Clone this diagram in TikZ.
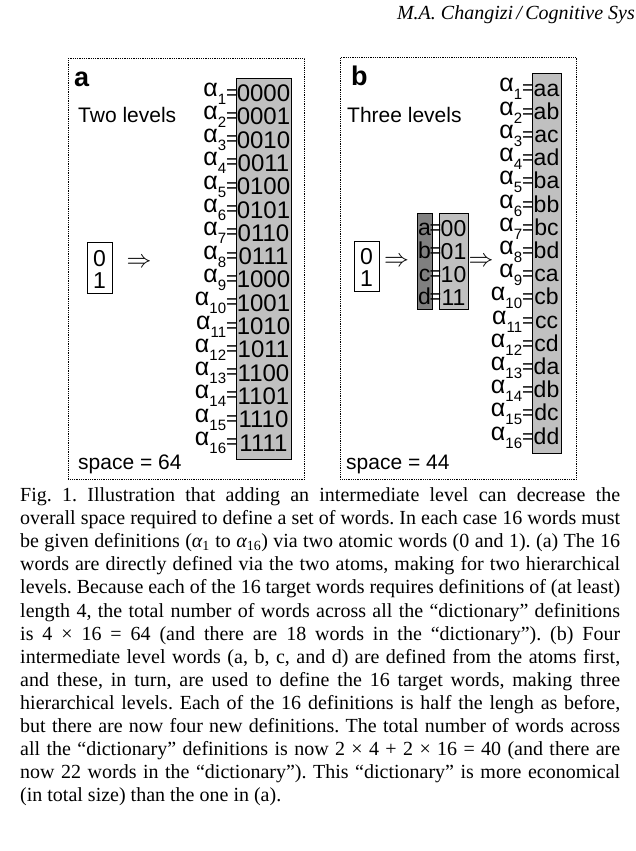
\documentclass[tikz,border=0pt]{standalone}
\usepackage{fontspec}
\setmainfont{Liberation Serif}
\newfontfamily\arial{Liberation Sans}
\usetikzlibrary{positioning,calc}

\definecolor{cellgray}{RGB}{192,192,192}
\definecolor{atomgray}{RGB}{128,128,128}

\newcommand{\wordlabel}[1]{{\fontsize{25}{25}\selectfont α}\raisebox{-8pt}{\fontsize{15}{15}\selectfont #1}\raisebox{-3pt}{\fontsize{20}{20}\selectfont =}}

\begin{document}
\begin{tikzpicture}[
    x=1pt, y=-1pt,
    panel/.style={rectangle, draw, line width=0.9pt, dash pattern=on 0.9pt off 0.9pt, inner sep=0pt, anchor=north west},
    defbox/.style={rectangle, draw, line width=1.3pt, fill=cellgray, inner sep=0pt, anchor=north west},
    atombox/.style={defbox, fill=white},
    midbox/.style={defbox, fill=atomgray},
    cell/.style={font=\arial\fontsize{24}{24}\selectfont, anchor=base, inner sep=0pt},
    smallcell/.style={cell, font=\arial\fontsize{23}{23}\selectfont},
    eqsign/.style={font=\arial\fontsize{20}{20}\selectfont, anchor=base, inner sep=0pt},
    wordlbl/.style={font=\arial, anchor=base east, inner sep=0pt},
    tag/.style={font=\arial\bfseries\fontsize{27}{27}\selectfont, anchor=base west, inner sep=0pt},
    head/.style={font=\arial\fontsize{21}{21}\selectfont, anchor=base west, inner sep=0pt},
    imply/.style={font=\fontsize{25}{25}\selectfont, inner sep=0pt},
    caption/.style={anchor=north west, inner sep=0pt, text width=600pt, align=justify, font=\fontsize{20}{23.1}\selectfont\frenchspacing}
]
\useasboundingbox (0,0) rectangle (635,851);

\node [anchor=base east, inner sep=0pt, font=\itshape\fontsize{20}{20}\selectfont] (hd) at (635,20) {M.A. Changizi\,/\,Cognitive Sys};

% panel a
\node [panel, minimum width=236pt, minimum height=421pt] (pa) at (68,58) {};
\node [tag] (ta) at (74,86) {a};
\node [head] (lva) at (78,122) {Two levels};
\node [head] (spa) at (78,469) {space = 64};
\node [atombox, minimum width=25pt, minimum height=51pt] (ata) at (87,242) {};
\node [smallcell] (za0) at (99.5,266) {0};
\node [smallcell] (za1) at (99.5,288) {1};
\node [imply] (ia) at (139,263) {$\Rightarrow$};
\node [defbox, minimum width=55pt, minimum height=381pt] (boxa) at (236,78) {};
\foreach \w [count=\i] in {0000,0001,0010,0011,0100,0101,0110,0111,1000,1001,1010,1011,1100,1101,1110,1111} {
    \node [cell] (wa\i) at (263.5,{101.5+23.3*(\i-1)}) {\w};
    \node [wordlbl] (la\i) at (238,{96+23.3*(\i-1)}) {\wordlabel{\i}};
}

% panel b
\node [panel, minimum width=236pt, minimum height=422pt] (pb) at (340,57) {};
\node [tag] (tb) at (351,85) {b};
\node [head] (lvb) at (347,122) {Three levels};
\node [head] (spb) at (346,469) {space = 44};
\node [atombox, minimum width=25pt, minimum height=50pt] (atb) at (354,241) {};
\node [smallcell] (zb0) at (366.5,264) {0};
\node [smallcell] (zb1) at (366.5,286) {1};
\node [imply] (ib1) at (396.5,262) {$\Rightarrow$};
\node [midbox, minimum width=15pt, minimum height=96pt] (boxm) at (417,213) {};
\node [defbox, minimum width=29pt, minimum height=96pt] (boxc) at (439,213) {};
\foreach \l/\c [count=\i] in {a/00,b/01,c/10,d/11} {
    \node [smallcell] (m\i) at (424.5,{235+23*(\i-1)}) {\l};
    \node [eqsign] (e\i) at (435.5,{234+23*(\i-1)}) {=};
    \node [smallcell] (c\i) at (453.5,{236+23*(\i-1)}) {\c};
}
\node [imply] (ib2) at (481,262) {$\Rightarrow$};
\node [defbox, minimum width=29pt, minimum height=380pt] (boxb) at (532,73) {};
\foreach \w [count=\i] in {aa,ab,ac,ad,ba,bb,bc,bd,ca,cb,cc,cd,da,db,dc,dd} {
    \node [smallcell] (wb\i) at (546.5,{96+23.2*(\i-1)}) {\w};
    \node [wordlbl] (lb\i) at (534,{92+23.2*(\i-1)}) {\wordlabel{\i}};
}

% caption
\node [caption] (cap) at (20,487.5) {Fig. 1. Illustration that adding an intermediate level can decrease the\linebreak
overall space required to define a set of words. In each case 16 words must\linebreak
be given definitions ({\itshape α}\textsubscript{1} to {\itshape α}\textsubscript{16}) via two atomic words (0 and 1). (a) The 16\linebreak
words are directly defined via the two atoms, making for two hierarchical\linebreak
levels. Because each of the 16 target words requires definitions of (at least)\linebreak
length 4, the total number of words across all the ``dictionary'' definitions\linebreak
is 4 × 16 = 64 (and there are 18 words in the ``dictionary''). (b) Four\linebreak
intermediate level words (a, b, c, and d) are defined from the atoms first,\linebreak
and these, in turn, are used to define the 16 target words, making three\linebreak
hierarchical levels. Each of the 16 definitions is half the lengh as before,\linebreak
but there are now four new definitions. The total number of words across\linebreak
all the ``dictionary'' definitions is now 2 × 4 + 2 × 16 = 40 (and there are\linebreak
now 22 words in the ``dictionary''). This ``dictionary'' is more economical\linebreak
(in total size) than the one in (a).};
\end{tikzpicture}
\end{document}
